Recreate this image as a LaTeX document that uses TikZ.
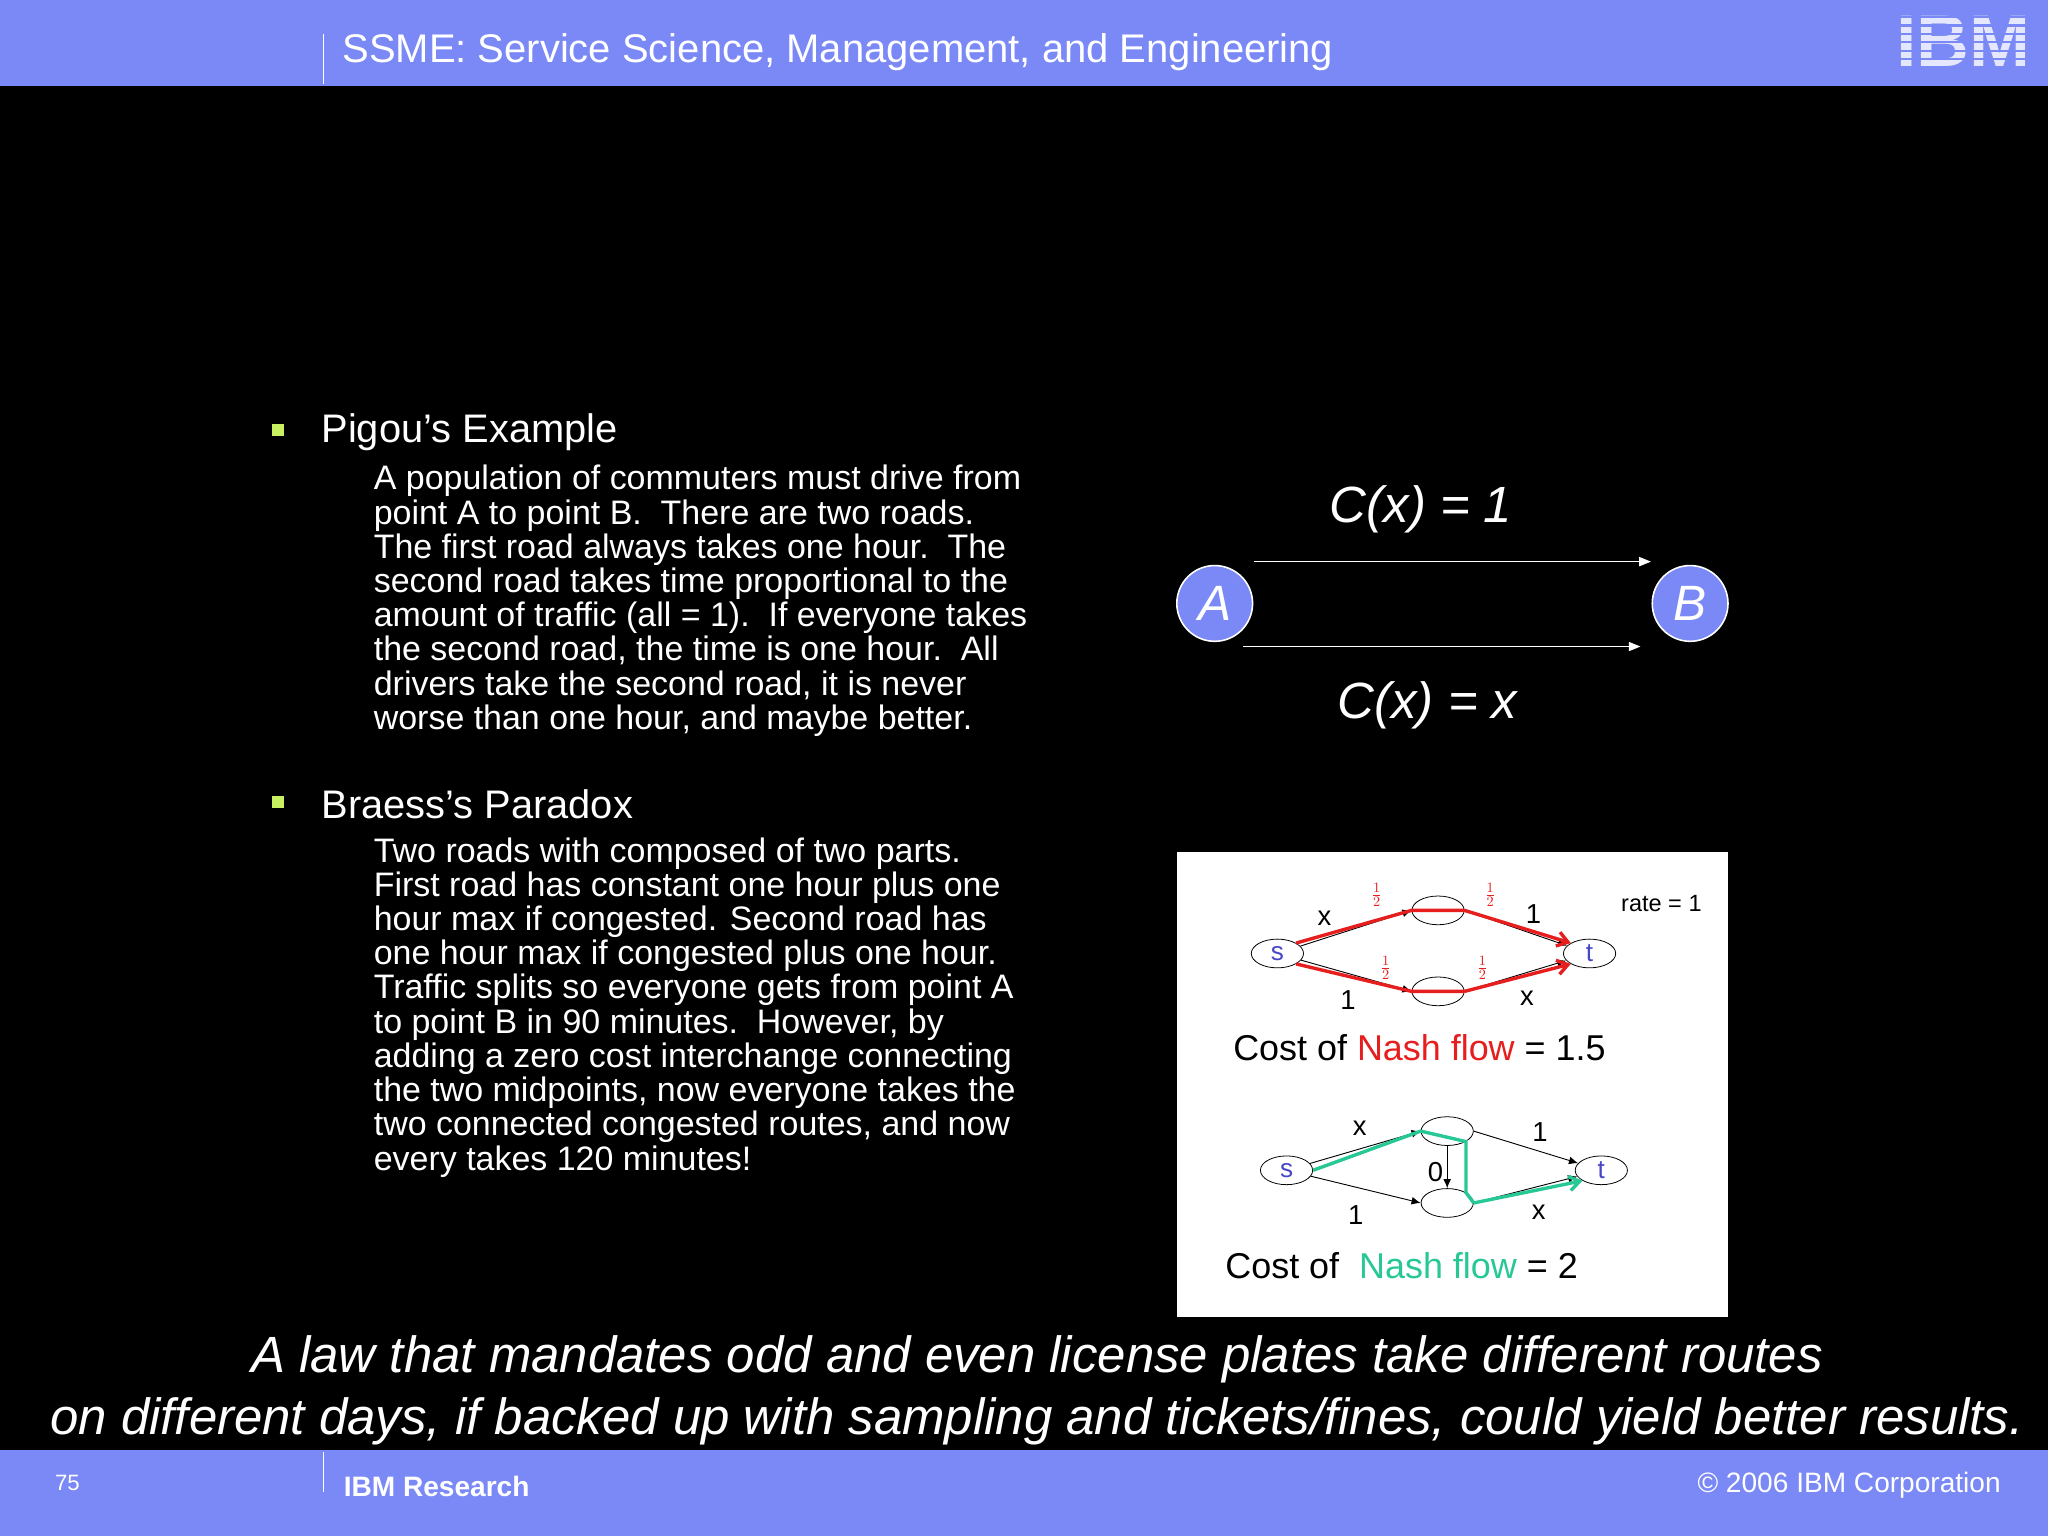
\documentclass[tikz,border=0pt]{standalone}
\usepackage{fontspec}
\setmainfont{Liberation Sans}
\usetikzlibrary{arrows.meta,shapes.geometric}
\definecolor{bar}{RGB}{122,137,245}
\definecolor{bul}{RGB}{200,240,96}
\definecolor{nred}{RGB}{230,30,30}
\definecolor{ngreen}{RGB}{40,200,150}
\definecolor{tblue}{RGB}{70,70,200}
\tikzset{
 body/.style={anchor=north west,inner sep=0,align=left,text=white,font=\fontsize{26}{26.2}\selectfont},
 head/.style={anchor=west,inner sep=0,text=white,font=\fontsize{30.5}{32}\selectfont},
 bulsq/.style={fill=bul,minimum size=9pt,inner sep=0},
 big/.style={circle,fill=bar,draw=white,line width=1.2pt,minimum size=58pt,inner sep=0,text=white,font=\fontsize{38}{40}\selectfont\itshape},
 warr/.style={white,line width=1pt,-{Triangle[length=9pt,width=7pt]}},
 ell/.style={ellipse,draw=black,line width=0.6pt,minimum width=40pt,minimum height=22pt,inner sep=0,font=\fontsize{20}{20}\selectfont,text=tblue},
 blk/.style={black,line width=0.7pt,-{Latex[length=7pt,width=6pt]}},
 redp/.style={nred,line width=2.6pt},
 grnp/.style={ngreen,line width=2.6pt},
 lab/.style={font=\fontsize{21}{21}\selectfont,text=black,inner sep=0},
 half/.style={font=\fontsize{15}{15}\selectfont,text=nred,inner sep=0},
 cxl/.style={text=white,font=\fontsize{39}{39}\selectfont\itshape,inner sep=0},
}
\begin{document}
\begin{tikzpicture}[x=1pt,y=-1pt]
\fill[black] (0,0) rectangle (1568,1176);
\useasboundingbox (0,0) rectangle (1568,1176);
% header
\fill[bar] (0,0) rectangle (1568,66);
\draw[white,line width=0.8pt] (248,26) -- (248,64);
\node[anchor=west,inner sep=0,text=white,font=\fontsize{30.6}{32}\selectfont] (title) at (262,40) {SSME: Service Science, Management, and Engineering};
\node[inner sep=0,text=white!80!bar,font=\fontsize{56}{56}\selectfont\bfseries] (ibm) at (1503,32) {IBM};
\foreach \yy in {12,18.5,25,31.5,38,44.5,51}{\fill[bar] (1440,\yy) rectangle (1565,\yy+1.8);}
% footer
\fill[bar] (0,1110) rectangle (1568,1176);
\draw[white,line width=0.8pt] (248,1112) -- (248,1142);
\node[anchor=west,inner sep=0,text=white,font=\fontsize{17}{17}\selectfont\rmfamily] (pg) at (42,1135) {75};
\node[anchor=west,inner sep=0,text=white,font=\fontsize{21.5}{21.5}\selectfont\bfseries] (ibmr) at (263,1138) {IBM Research};
\node[anchor=east,inner sep=0,text=white,font=\fontsize{21.5}{21.5}\selectfont] (copy) at (1532,1137) {© 2006 IBM Corporation};
% bullets
\node[bulsq] (b1) at (213,329) {};
\node[head] (h1) at (246,331) {Pigou’s Example};
\node[body] (t1) at (286,356) {A population of commuters must drive from\\point A to point B.\ \ There are two roads.\\The first road always takes one hour.\ \ The\\second road takes time proportional to the\\amount of traffic (all = 1).\ \ If everyone takes\\the second road, the time is one hour.\ \ All\\drivers take the second road, it is never\\worse than one hour, and maybe better.};
\node[bulsq] (b2) at (213,614) {};
\node[head] (h2) at (246,616) {Braess’s Paradox};
\node[body] (t2) at (286,641) {Two roads with composed of two parts.\\First road has constant one hour plus one\\hour max if congested. Second road has\\one hour max if congested plus one hour.\\Traffic splits so everyone gets from point A\\to point B in 90 minutes.\ \ However, by\\adding a zero cost interchange connecting\\the two midpoints, now everyone takes the\\two connected congested routes, and now\\every takes 120 minutes!};
% Pigou diagram
\node[big] (A) at (930,462) {A};
\node[big] (B) at (1294,462) {B};
\coordinate (a1) at (960,430); \coordinate (b1e) at (1264,430);
\coordinate (a2) at (952,495); \coordinate (b2e) at (1256,495);
\draw[warr] (a1) -- (b1e);
\draw[warr] (a2) -- (b2e);
\node[cxl] (c1) at (1088,390) {C(x) = 1};
\node[cxl] (c2) at (1093,540) {C(x) = x};
% Braess picture
\fill[white] (901,652) rectangle (1323,1008);
\node[ell] (s1) at (978,730) {s};
\node[ell] (u1) at (1101,697) {};
\node[ell] (v1) at (1101,759) {};
\node[ell] (t1n) at (1217,730) {t};
\draw[blk] (s1) -- (u1.west);
\draw[blk] (s1) -- (v1.west);
\draw[blk] (u1.east) -- (t1n);
\draw[blk] (v1.east) -- (t1n);
\draw[redp] (s1.north east) -- (u1.west) -- (u1.east);
\draw[redp,-{Straight Barb[length=8pt,width=11pt]}] (u1.east) -- (t1n.north west);
\draw[redp] (s1.south east) -- (v1.west) -- (v1.east);
\draw[redp,-{Straight Barb[length=8pt,width=11pt]}] (v1.east) -- (t1n.south west);
\node[lab] (x1) at (1014,703) {x};
\node[lab] (o1) at (1174,700) {1};
\node[lab] (o2) at (1032,766) {1};
\node[lab] (x2) at (1169,764) {x};
\node[half] (h11) at (1054,685) {$\frac12$};
\node[half] (h12) at (1141,685) {$\frac12$};
\node[half] (h13) at (1061,741) {$\frac12$};
\node[half] (h14) at (1135,741) {$\frac12$};
\node[lab,font=\fontsize{18}{18}\selectfont] (rate) at (1272,692) {rate = 1};
\node[anchor=west,inner sep=0,font=\fontsize{27.5}{27.5}\selectfont] (cost1) at (944,802) {Cost of \textcolor{nred}{Nash flow} = 1.5};
\node[ell] (s2) at (985,896) {s};
\node[ell] (u2) at (1108,866) {};
\node[ell] (v2) at (1108,921) {};
\node[ell] (t2n) at (1226,896) {t};
\draw[blk] (s2) -- (u2.west);
\draw[blk] (s2) -- (v2.west);
\draw[blk] (u2.east) -- (t2n);
\draw[blk] (v2.east) -- (t2n);
\draw[blk] (u2.south) -- (v2.north);
\draw[grnp] (s2.east) -- (u2.west) -- (u2.south east) -- (v2.north east) -- (v2.east);
\draw[grnp,-{Straight Barb[length=8pt,width=11pt]}] (v2.east) -- (t2n.south west);
\node[lab] (x3) at (1041,864) {x};
\node[lab] (o3) at (1179,867) {1};
\node[lab] (z) at (1099,897) {0};
\node[lab] (o4) at (1038,930) {1};
\node[lab] (x4) at (1178,928) {x};
\node[anchor=west,inner sep=0,font=\fontsize{27.5}{27.5}\selectfont] (cost2) at (938,969) {Cost of\ \ \textcolor{ngreen}{Nash flow} = 2};
% bottom text
\node[text=white,font=\fontsize{39}{39}\selectfont\itshape,inner sep=0] (l1) at (794,1041) {A law that mandates odd and even license plates take different routes};
\node[text=white,font=\fontsize{39}{39}\selectfont\itshape,inner sep=0] (l2) at (794,1088) {on different days, if backed up with sampling and tickets/fines, could yield better results.};
\end{tikzpicture}
\end{document}
